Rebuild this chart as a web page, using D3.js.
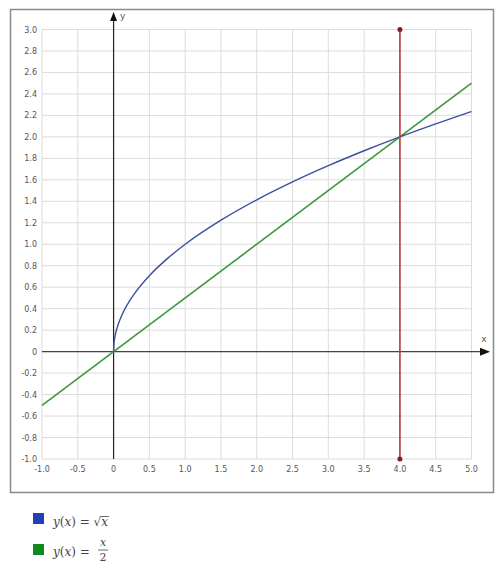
<!DOCTYPE html>
<html><head><meta charset="utf-8">
<script src="https://cdn.jsdelivr.net/npm/d3@7"></script>
<style>body{margin:0;background:#fff}svg{display:block}</style>
</head><body>
<svg id="c" width="500" height="572"></svg>
<script>
const xTicks = [-1.0,-0.5,0,0.5,1.0,1.5,2.0,2.5,3.0,3.5,4.0,4.5,5.0];
const yTicks = [-1.0,-0.8,-0.6,-0.4,-0.2,0,0.2,0.4,0.6,0.8,1.0,1.2,1.4,1.6,1.8,2.0,2.2,2.4,2.6,2.8,3.0];
const sqrtX = [0,0.005,0.02,0.05,0.1,0.2,0.3,0.5,0.75,1,1.5,2,2.5,3,3.5,4,4.5,5];
const sqrtY = [0,0.0707,0.1414,0.2236,0.3162,0.4472,0.5477,0.7071,0.8660,1,1.2247,1.4142,1.5811,1.7321,1.8708,2,2.1213,2.2361];
const halfX = [-1,5];
const halfY = [-0.5,2.5];
const vertX = [4,4];
const vertY = [-1,3];

const svg = d3.select("#c");
const x = d3.scaleLinear().domain([-1,5]).range([42,471.5]);
const y = d3.scaleLinear().domain([-1,3]).range([459,29.5]);

// outer frame
svg.append("rect").attr("x",10.5).attr("y",9.5).attr("width",483).attr("height",483)
  .attr("fill","none").attr("stroke","#8a8a8a").attr("stroke-width",1.5);

// grid
const g = svg.append("g");
g.selectAll(".vx").data(xTicks).join("line")
  .attr("x1",d=>x(d)).attr("x2",d=>x(d)).attr("y1",y(3)).attr("y2",y(-1))
  .attr("stroke","#dcdcdc").attr("stroke-width",1);
g.selectAll(".hy").data(yTicks).join("line")
  .attr("y1",d=>y(d)).attr("y2",d=>y(d)).attr("x1",x(-1)).attr("x2",x(5))
  .attr("stroke","#dcdcdc").attr("stroke-width",1);

const fmt = d => d===0 ? "0" : d3.format(".1f")(d).replace("\u2212","-");
// tick labels
svg.selectAll(".xl").data(xTicks).join("text")
  .attr("x",d=>x(d)).attr("y",472).attr("text-anchor","middle")
  .attr("font-family","DejaVu Sans, Verdana, sans-serif").attr("font-size",8).attr("fill","#555")
  .text(fmt);
svg.selectAll(".yl").data(yTicks).join("text")
  .attr("x",37).attr("y",d=>y(d)+3).attr("text-anchor","end")
  .attr("font-family","DejaVu Sans, Verdana, sans-serif").attr("font-size",8).attr("fill","#555")
  .text(fmt);

// axes
svg.append("line").attr("x1",x(-1)).attr("x2",484).attr("y1",y(0)).attr("y2",y(0))
  .attr("stroke","#444").attr("stroke-width",1.2);
svg.append("path").attr("d",`M${490},${y(0)} L${480},${y(0)-4} L${480},${y(0)+4}Z`).attr("fill","#111");
svg.append("text").attr("x",484).attr("y",y(0)-10).attr("text-anchor","middle")
  .attr("font-family","DejaVu Sans, Verdana, sans-serif").attr("font-size",9).attr("fill","#555").text("x");

svg.append("line").attr("x1",x(0)).attr("x2",x(0)).attr("y1",y(-1)).attr("y2",19)
  .attr("stroke","#222").attr("stroke-width",1.2);
svg.append("path").attr("d",`M${x(0)},${12} L${x(0)-3.5},${21} L${x(0)+3.5},${21}Z`).attr("fill","#111");
svg.append("text").attr("x",x(0)+9).attr("y",19).attr("text-anchor","middle")
  .attr("font-family","DejaVu Sans, Verdana, sans-serif").attr("font-size",9).attr("fill","#555").text("y");

// series
const line = d3.line().x(d=>x(d[0])).y(d=>y(d[1]));
svg.append("path").datum(halfX.map((v,i)=>[v,halfY[i]])).attr("d",line)
  .attr("fill","none").attr("stroke","#3a9a3a").attr("stroke-width",1.6);
svg.append("path").datum(sqrtX.map((v,i)=>[v,sqrtY[i]])).attr("d",line.curve(d3.curveMonotoneX))
  .attr("fill","none").attr("stroke","#3b4fa0").attr("stroke-width",1.4);
const vline = d3.line().x(d=>x(d[0])).y(d=>y(d[1]));
const vpts = vertX.map((v,i)=>[v,vertY[i]]);
svg.append("path").datum(vpts).attr("d",vline)
  .attr("fill","none").attr("stroke","#c0393b").attr("stroke-width",1.6);
svg.selectAll(".vd").data(vpts).join("circle")
  .attr("cx",d=>x(d[0])).attr("cy",d=>y(d[1])).attr("r",2.5).attr("fill","#8b1a1a");

// legend
const mf = "DejaVu Serif, Liberation Serif, serif";
svg.append("rect").attr("x",33).attr("y",513).attr("width",11).attr("height",11).attr("fill","#1f3fbf");
svg.append("rect").attr("x",33).attr("y",544).attr("width",11).attr("height",11).attr("fill","#0f8a1f");
const t1 = svg.append("text").attr("x",53).attr("y",526).attr("font-family",mf).attr("font-size",12).attr("fill","#444");
t1.append("tspan").attr("font-style","italic").text("y");
t1.append("tspan").text("(");
t1.append("tspan").attr("font-style","italic").text("x");
t1.append("tspan").text(") = √");
const xs = t1.append("tspan").attr("font-style","italic").text("x");
// overline for sqrt
const n = t1.node();
const nch = n.getNumberOfChars();
const ext = n.getExtentOfChar(nch-1);
const ext0 = n.getExtentOfChar(nch-2);
svg.append("line").attr("x1",ext0.x+ext0.width-1).attr("x2",ext.x+ext.width+1).attr("y1",ext0.y+1.5).attr("y2",ext0.y+1.5)
  .attr("stroke","#444").attr("stroke-width",0.8);

const t2 = svg.append("text").attr("x",53).attr("y",556).attr("font-family",mf).attr("font-size",12).attr("fill","#444");
t2.append("tspan").attr("font-style","italic").text("y");
t2.append("tspan").text("(");
t2.append("tspan").attr("font-style","italic").text("x");
t2.append("tspan").text(") =");
svg.append("text").attr("x",103).attr("y",546).attr("text-anchor","middle").attr("font-family",mf)
  .attr("font-size",11).attr("font-style","italic").attr("fill","#444").text("x");
svg.append("line").attr("x1",98).attr("x2",108).attr("y1",550).attr("y2",550).attr("stroke","#444").attr("stroke-width",0.8);
svg.append("text").attr("x",103).attr("y",561).attr("text-anchor","middle").attr("font-family",mf)
  .attr("font-size",11).attr("fill","#444").text("2");
</script>
</body></html>
